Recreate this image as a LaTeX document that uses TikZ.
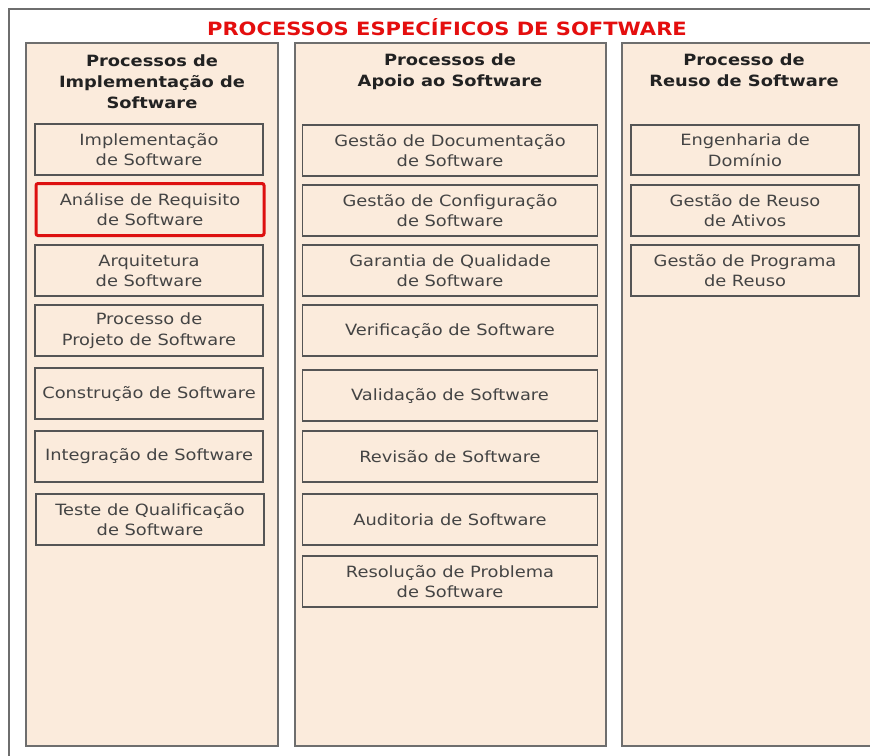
\documentclass[tikz,border=0pt]{standalone}
\usepackage{fontspec}
\setmainfont{DejaVu Sans}[FakeStretch=1.15]
\definecolor{peach}{HTML}{FBEBDC}
\definecolor{colgray}{HTML}{6E6E6E}
\definecolor{boxgray}{HTML}{555555}
\definecolor{textgray}{HTML}{444444}
\definecolor{headgray}{HTML}{222222}
\definecolor{titlered}{HTML}{E40E0E}
\definecolor{hlred}{HTML}{DD1010}
\begin{document}
\begin{tikzpicture}[x=1pt,y=-1pt,
  colbox/.style={draw=colgray, line width=1.6pt, fill=peach},
  proc/.style={draw=boxgray, line width=1.3pt, fill=peach, align=center, inner sep=0pt,
    text=textgray, font=\fontsize{15.5}{20.5}\selectfont},
  hl/.style={proc, draw=hlred, line width=3pt, rounded corners=2pt},
  head/.style={align=center, text=headgray, font=\bfseries\fontsize{15.5}{21}\selectfont, anchor=north, inner sep=0pt},
]
\useasboundingbox (0,0) rectangle (870,755);
\fill[white] (0,0) rectangle (870,755);
% outer frame
\begin{scope}
\clip (0,0) rectangle (870,755);
\draw[colgray, line width=1.2pt] (9,765) -- (9,9) -- (880,9);
\draw[colbox] (26,43) rectangle (278,746);
\draw[colbox] (295,43) rectangle (606,746);
\draw[colbox] (622,43) rectangle (880,746);
\end{scope}
\node[text=titlered, font=\bfseries\fontsize{18.3}{22}\selectfont, inner sep=0pt] (title) at (447,27) {PROCESSOS ESPECÍFICOS DE SOFTWARE};

% headers
\node[head] (h1) at (152,55) {Processos de\\Implementação de\\Software};
\node[head] (h2) at (450,54) {Processos de\\Apoio ao Software};
\node[head] (h3) at (744,54) {Processo de\\Reuso de Software};

% column 1
\node[proc, minimum width=228, minimum height=51] (a1) at (149,149.5) {Implementação\\de Software};
\node[hl, minimum width=228, minimum height=52] (a2) at (150,209.5) {Análise de Requisito\\de Software};
\node[proc, minimum width=228, minimum height=51] (a3) at (149,270.5) {Arquitetura\\de Software};
\node[proc, minimum width=228, minimum height=51] (a4) at (149,330.5) {Processo de\\Projeto de Software};
\node[proc, minimum width=228, minimum height=51] (a5) at (149,393.5) {Construção de Software};
\node[proc, minimum width=228, minimum height=51] (a6) at (149,456.5) {Integração de Software};
\node[proc, minimum width=228, minimum height=51] (a7) at (150,519.5) {Teste de Qualificação\\de Software};

% column 2
\node[proc, minimum width=295, minimum height=51] (b1) at (450,150.5) {Gestão de Documentação\\de Software};
\node[proc, minimum width=295, minimum height=51] (b2) at (450,210.5) {Gestão de Configuração\\de Software};
\node[proc, minimum width=295, minimum height=51] (b3) at (450,270.5) {Garantia de Qualidade\\de Software};
\node[proc, minimum width=295, minimum height=51] (b4) at (450,330.5) {Verificação de Software};
\node[proc, minimum width=295, minimum height=51] (b5) at (450,395.5) {Validação de Software};
\node[proc, minimum width=295, minimum height=51] (b6) at (450,456.5) {Revisão de Software};
\node[proc, minimum width=295, minimum height=51] (b7) at (450,519.5) {Auditoria de Software};
\node[proc, minimum width=295, minimum height=51] (b8) at (450,581.5) {Resolução de Problema\\de Software};

% column 3
\node[proc, minimum width=228, minimum height=50] (c1) at (745,150) {Engenharia de\\Domínio};
\node[proc, minimum width=228, minimum height=51] (c2) at (745,210.5) {Gestão de Reuso\\de Ativos};
\node[proc, minimum width=228, minimum height=51] (c3) at (745,270.5) {Gestão de Programa\\de Reuso};
\end{tikzpicture}
\end{document}
